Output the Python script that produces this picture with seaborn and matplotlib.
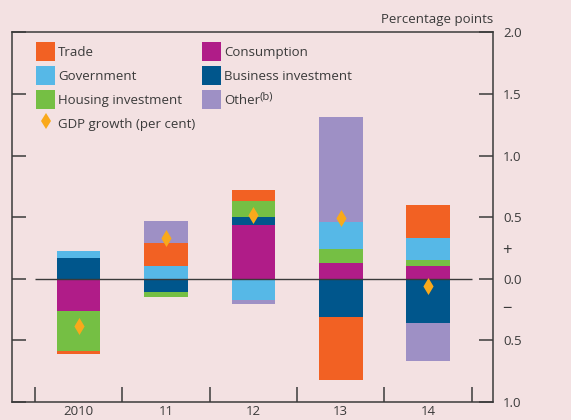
import numpy as np
import pandas as pd
import seaborn as sns
import matplotlib.pyplot as plt
from matplotlib.patches import Patch
from matplotlib.lines import Line2D

# Data (percentage point contributions)
years = ['2010', '11', '12', '13', '14']
consumption = [-0.26, 0.0, 0.44, 0.13, 0.10]
business = [0.17, -0.11, 0.06, -0.31, -0.355]
housing = [-0.33, -0.035, 0.13, 0.11, 0.055]
government = [0.055, 0.10, -0.175, 0.22, 0.175]
trade = [-0.02, 0.19, 0.09, -0.51, 0.27]
other = [0.0, 0.18, -0.03, 0.855, -0.315]
gdp = [-0.38, 0.33, 0.52, 0.49, -0.06]

bg = '#f3e1e2'
ink = '#3a3a3a'
colors = {'Trade': '#f26123', 'Government': '#56b8e7', 'Housing investment': '#75bf44',
          'Consumption': '#b01c88', 'Business investment': '#00568c', 'Other': '#9e90c5'}
diamond = '#f9a91b'

sns.set_style('white', {'axes.facecolor': bg, 'figure.facecolor': bg,
                        'axes.edgecolor': ink, 'text.color': ink,
                        'xtick.color': ink, 'ytick.color': ink})
plt.rcParams['font.family'] = ['Open Sans', 'DejaVu Sans']
fs = 9.5

df = pd.DataFrame({'Consumption': consumption, 'Business investment': business,
                   'Housing investment': housing, 'Government': government,
                   'Trade': trade, 'Other': other}, index=years)

fig = plt.figure(figsize=(5.71, 4.2), dpi=100)
ax = fig.add_axes([12 / 571, 18 / 420, 481.3 / 571, 369.7 / 420])

x = np.arange(len(years))
pos_bottom = np.zeros(len(years))
neg_bottom = np.zeros(len(years))
for comp in df.columns:
    vals = df[comp].values
    bottom = np.where(vals >= 0, pos_bottom, neg_bottom)
    ax.bar(x, vals, width=0.5, bottom=bottom, color=colors[comp], linewidth=0, zorder=2)
    pos_bottom += np.clip(vals, 0, None)
    neg_bottom += np.clip(vals, None, 0)

ax.hlines(0, -0.5, len(years) - 0.5, color=ink, linewidth=1, zorder=3)

gdp_df = pd.DataFrame({'x': x, 'gdp': gdp})
sns.scatterplot(data=gdp_df, x='x', y='gdp', marker='d', s=75, color=diamond,
                linewidth=0, zorder=4, ax=ax)

# Axes
ax.set_xlim(-0.763, 4.747)
ax.set_ylim(-1.0, 2.0)
ax.set_xlabel('')
ax.set_ylabel('')
for s in ax.spines.values():
    s.set_linewidth(1.1)
    s.set_color(ink)

ax.set_xticks(x)
ax.set_xticklabels(years, fontsize=fs)
ax.set_xticks(np.arange(len(years) + 1) - 0.5, minor=True)
ax.tick_params(axis='x', which='major', length=0, pad=2)
ax.tick_params(axis='x', which='minor', direction='in', length=10.8, width=1.1, bottom=True)

yt = [2.0, 1.5, 1.0, 0.5, 0.0, -0.5, -1.0]
ax.set_yticks(yt)
ax.set_yticklabels([f'{abs(v):.1f}' for v in yt], fontsize=fs)
ax.tick_params(axis='y', left=True, right=True, labelleft=False, labelright=True,
               direction='in', length=10, width=1.1, pad=7)
sign_x = 1.0 + 9 / 481.3
ax.text(sign_x, 0.225, '+', transform=ax.get_yaxis_transform(), fontsize=12,
        ha='left', va='center')
ax.text(sign_x, -0.245, '\u2212', transform=ax.get_yaxis_transform(), fontsize=12,
        ha='left', va='center')

fig.text(493 / 571, 1 - 19 / 420, 'Percentage points', fontsize=fs, ha='right', va='center')

# Legend
def sq(c):
    return Patch(facecolor=c, edgecolor='none')

handles = [sq(colors['Trade']), sq(colors['Government']), sq(colors['Housing investment']),
           Line2D([], [], marker='d', color=diamond, linestyle='none', markersize=8.6,
                  markeredgewidth=0),
           sq(colors['Consumption']), sq(colors['Business investment']), sq(colors['Other'])]
labels = ['Trade', 'Government', 'Housing investment', 'GDP growth (per cent)',
          'Consumption', 'Business investment', 'Other']
leg = ax.legend(handles, labels, ncol=2, loc='upper left',
                bbox_to_anchor=((36 - 12) / 481.3, (402 - 42) / 369.7), frameon=False,
                fontsize=fs, handlelength=1.44, handleheight=1.84, handletextpad=0.25,
                labelspacing=0.38, columnspacing=0.5, borderpad=0, borderaxespad=0)

# superscript note after "Other"
fig.canvas.draw()
bb = leg.get_texts()[-1].get_window_extent()
fig.text((bb.x1 - 1) / 571, (bb.y1 + 2) / 420, '(b)', fontsize=8, ha='left', va='top')

fig.savefig('out.png', dpi=100, facecolor=bg)
